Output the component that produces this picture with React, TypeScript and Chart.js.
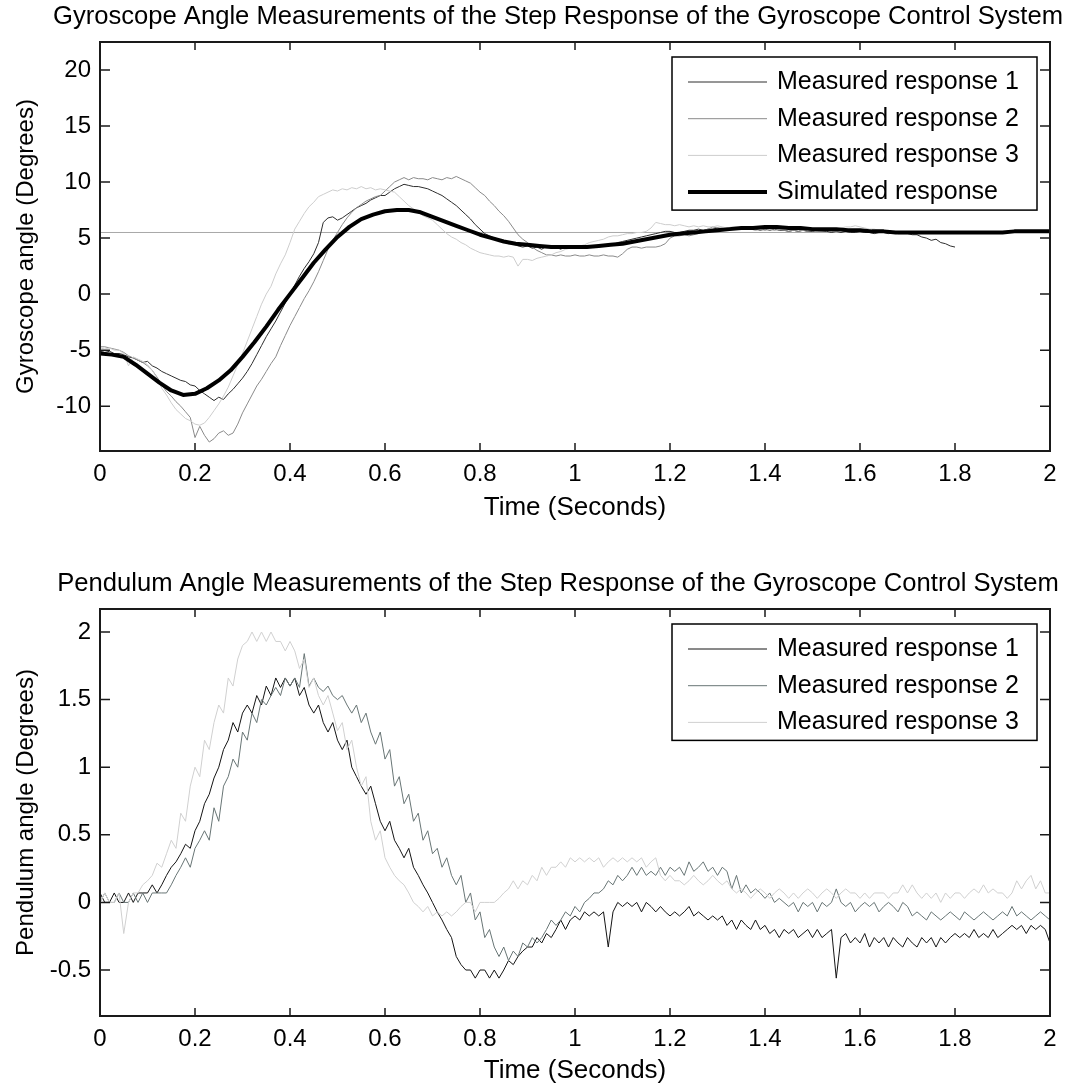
import React, { useEffect, useRef } from "react";
import { Chart, registerables } from "chart.js";

Chart.register(...registerables);

const FONT_FAMILY = "'Liberation Sans', Arial, Helvetica, sans-serif";
const TEXT_COLOR = "#000000";

// ---- axes ----
const timeTicks = [0, 0.2, 0.4, 0.6, 0.8, 1, 1.2, 1.4, 1.6, 1.8, 2];
const timeRange = [0, 2];
const gyroTicks = [-10, -5, 0, 5, 10, 15, 20];
const gyroRange = [-14, 22.5];
const pendTicks = [-0.5, 0, 0.5, 1, 1.5, 2];
const pendRange = [-0.84, 2.17];

// ---- sampling (seconds between stored samples) ----
const SAMPLE_STEP = 0.01;
const SIM_STEP = 0.025;

// ---- gyroscope angle (degrees) ----
const gyroSteadyState = 5.5;

const gyroMeasured1 = [
  -5.1, -5.2, -5.1, -5.3, -5.3, -5.4, -5.6, -5.7, -5.9, -6.1,
  -6.0, -6.4, -6.6, -6.9, -7.1, -7.3, -7.5, -7.7, -7.8, -8.1,
  -8.2, -8.6, -8.9, -9.2, -9.5, -9.2, -9.4, -8.9, -8.5, -8.0,
  -7.5, -6.9, -6.2, -5.4, -4.6, -3.8, -3.1, -2.4, -1.6, -0.8,
  0.0, 0.8, 1.6, 2.3, 2.9, 3.6, 4.6, 6.4, 6.8, 6.9,
  6.6, 6.8, 7.1, 7.4, 7.7, 7.9, 8.1, 8.4, 8.6, 8.8,
  8.8, 9.1, 9.4, 9.6, 9.8, 9.7, 9.6, 9.6, 9.5, 9.4,
  9.2, 9.0, 8.8, 8.5, 8.2, 7.9, 7.5, 7.1, 6.7, 6.2,
  5.8, 5.4, 5.2, 5.0, 4.8, 4.7, 4.5, 4.5, 4.3, 4.2,
  4.3, 4.1, 4.2, 4.0, 4.3, 4.1, 4.2, 4.0, 4.3, 4.1,
  4.2, 4.1, 4.3, 4.2, 4.2, 4.3, 4.3, 4.4, 4.4, 4.6,
  4.7, 4.8, 4.9, 5.0, 5.1, 5.2, 5.3, 5.4, 5.5, 5.6,
  5.6, 5.5, 5.5, 5.6, 5.7, 5.7, 5.8, 5.7, 5.8, 5.8,
  5.9, 5.8, 5.9, 5.8, 5.9, 5.9, 5.8, 5.9, 5.8, 5.7,
  5.8, 5.7, 5.8, 5.7, 5.7, 5.6, 5.7, 5.6, 5.7, 5.6,
  5.6, 5.7, 5.6, 5.6, 5.5, 5.6, 5.5, 5.6, 5.5, 5.5,
  5.6, 5.5, 5.5, 5.4, 5.5, 5.5, 5.4, 5.5, 5.4, 5.4,
  5.4, 5.3, 5.3, 5.1, 5.0, 4.8, 4.9, 4.6, 4.5, 4.3,
  4.2,
];

const gyroMeasured2 = [
  -4.7, -4.7, -4.8, -4.9, -5.0, -5.2, -5.5, -5.7, -5.9, -6.1,
  -6.4, -6.8, -7.4, -8.1, -8.7, -9.1, -9.6, -10.0, -10.5, -11.0,
  -12.8, -11.8, -12.6, -13.2, -12.9, -12.4, -12.2, -12.6, -12.4, -11.6,
  -10.6, -9.8, -9.0, -8.2, -7.6, -6.9, -6.2, -5.6, -4.6, -3.7,
  -2.8, -2.0, -1.2, -0.4, 0.3, 1.1, 2.0, 3.0, 4.0, 4.8,
  5.5, 6.2, 6.8, 7.3, 7.7, 8.0, 8.3, 8.5, 8.7, 8.8,
  9.2, 9.6, 10.0, 10.2, 10.4, 10.2, 10.4, 10.3, 10.3, 10.2,
  10.4, 10.3, 10.2, 10.4, 10.3, 10.5, 10.3, 10.1, 9.9, 9.5,
  9.1, 8.8, 8.3, 7.9, 7.4, 7.0, 6.5, 5.9, 5.3, 4.9,
  4.6, 4.2, 3.9, 3.7, 3.5, 3.5, 3.4, 3.5, 3.4, 3.4,
  3.5, 3.4, 3.4, 3.5, 3.4, 3.4, 3.5, 3.4, 3.4, 3.3,
  3.6, 4.0, 4.2, 4.2, 4.1, 4.2, 4.2, 4.2, 4.3, 4.5,
  5.0, 5.2, 5.2, 5.3, 5.2, 5.3, 5.4, 5.6, 5.8, 6.0,
  5.9, 5.9, 5.8, 5.9, 5.8, 5.8, 5.9, 5.8, 5.7, 5.8,
  5.7, 5.8, 5.7, 5.8, 5.7, 5.6, 5.7, 5.6, 5.7, 5.6,
  5.7, 5.6, 5.6, 5.7, 5.6, 5.6, 5.7, 5.7, 5.6, 5.6,
  5.6,
];

const gyroMeasured3 = [
  -4.8, -4.9, -4.8, -5.0, -5.0, -5.3, -6.4, -5.6, -5.8, -6.0,
  -6.3, -6.8, -7.5, -8.4, -9.0, -9.7, -10.3, -10.7, -11.1, -11.3,
  -11.6, -11.7, -11.5, -11.0, -10.4, -9.8, -9.1, -8.3, -7.3, -6.3,
  -5.3, -4.2, -3.1, -2.0, -0.9, 0.0, 0.7, 1.8, 2.7, 3.5,
  4.6, 5.8, 6.5, 7.2, 7.8, 8.2, 8.7, 8.9, 9.1, 9.3,
  9.2, 9.4, 9.3, 9.5, 9.4, 9.6, 9.4, 9.5, 9.3, 9.4,
  9.3, 9.2, 9.1, 8.7, 8.3, 7.9, 7.6, 7.3, 7.0, 6.8,
  6.6, 6.2, 5.8, 5.4, 5.1, 4.9, 4.6, 4.4, 4.1, 3.9,
  3.7, 3.6, 3.5, 3.4, 3.4, 3.3, 3.4, 3.3, 2.5, 3.1,
  3.1, 3.0, 3.2, 3.3, 3.4, 3.5, 3.7, 3.8, 4.0, 4.1,
  4.2, 4.3, 4.4, 4.6, 4.7, 4.8, 4.9, 5.1, 5.2, 5.2,
  5.3, 5.4, 5.4, 5.5, 5.5, 5.6, 5.9, 6.4, 6.3, 6.2,
  6.2, 6.1, 6.2, 6.1, 6.0, 6.1, 6.0, 6.1, 6.0, 6.0,
  6.1, 6.0, 5.9, 6.0, 6.0, 5.9, 5.9, 6.0, 5.9, 5.8,
  5.9, 5.8, 5.9, 5.8, 5.8, 5.9, 5.8, 5.8, 5.7, 5.8,
  5.8, 5.7, 5.8, 5.8, 5.7, 5.8, 5.9, 6.0, 6.0, 6.1,
  6.0, 5.9, 5.8, 5.8, 5.7, 5.7,
];

const gyroSimulated = [
  -5.3, -5.4, -5.6, -6.3, -7.1, -7.9, -8.6, -9.0, -8.9, -8.4,
  -7.7, -6.8, -5.6, -4.3, -2.9, -1.4, 0.0, 1.4, 2.8, 4.0,
  5.1, 6.0, 6.7, 7.1, 7.4, 7.5, 7.5, 7.3, 6.9, 6.5,
  6.1, 5.7, 5.3, 5.0, 4.7, 4.5, 4.4, 4.3, 4.2, 4.2,
  4.2, 4.2, 4.3, 4.4, 4.5, 4.7, 4.9, 5.1, 5.3, 5.4,
  5.5, 5.6, 5.7, 5.8, 5.9, 5.9, 6.0, 6.0, 5.9, 5.9,
  5.8, 5.8, 5.8, 5.7, 5.7, 5.6, 5.6, 5.5, 5.5, 5.5,
  5.5, 5.5, 5.5, 5.5, 5.5, 5.5, 5.5, 5.6, 5.6, 5.6,
  5.6,
];

// ---- pendulum angle (degrees) ----
const pendMeasured1 = [
  0.07, 0, 0, 0.07, 0, 0, 0.07, 0, 0.07, 0.07,
  0.07, 0.13, 0.07, 0.13, 0.2, 0.26, 0.3, 0.36, 0.43, 0.4,
  0.53, 0.6, 0.73, 0.8, 0.92, 1.0, 1.13, 1.2, 1.33, 1.26,
  1.4, 1.46, 1.4, 1.53, 1.46, 1.6, 1.53, 1.66, 1.59, 1.66,
  1.6, 1.66, 1.53, 1.59, 1.46, 1.4, 1.46, 1.33, 1.26, 1.33,
  1.2, 1.13, 1.2, 1.0, 0.93, 0.86, 0.8, 0.86, 0.73, 0.6,
  0.53, 0.6, 0.46, 0.4, 0.33, 0.4, 0.26, 0.2, 0.13, 0.07,
  0, -0.07, -0.13, -0.2, -0.26, -0.4, -0.46, -0.5, -0.5, -0.56,
  -0.5, -0.5, -0.56, -0.5, -0.56, -0.5, -0.43, -0.46, -0.4, -0.36,
  -0.33, -0.33, -0.26, -0.3, -0.23, -0.26, -0.2, -0.13, -0.2, -0.13,
  -0.1, -0.13, -0.07, -0.1, -0.07, -0.1, -0.07, -0.33, -0.07, 0,
  -0.03, 0, -0.03, 0, -0.07, 0, -0.03, -0.07, -0.03, -0.07,
  -0.1, -0.07, -0.1, -0.07, -0.03, -0.1, -0.07, -0.1, -0.13, -0.1,
  -0.13, -0.1, -0.17, -0.13, -0.2, -0.13, -0.17, -0.2, -0.13, -0.2,
  -0.17, -0.23, -0.2, -0.26, -0.2, -0.23, -0.2, -0.26, -0.23, -0.2,
  -0.26, -0.2, -0.26, -0.23, -0.2, -0.56, -0.26, -0.23, -0.3, -0.26,
  -0.3, -0.23, -0.33, -0.26, -0.3, -0.26, -0.33, -0.26, -0.3, -0.33,
  -0.26, -0.3, -0.33, -0.26, -0.3, -0.26, -0.33, -0.26, -0.3, -0.26,
  -0.23, -0.26, -0.23, -0.26, -0.2, -0.26, -0.23, -0.26, -0.2, -0.26,
  -0.23, -0.2, -0.17, -0.2, -0.17, -0.23, -0.17, -0.2, -0.17, -0.2,
  -0.3,
];

const pendMeasured2 = [
  0, 0.07, 0, 0, 0.07, 0, 0, 0.07, 0, 0.07,
  0, 0.07, 0.07, 0.07, 0.07, 0.13, 0.2, 0.26, 0.33, 0.26,
  0.4, 0.46, 0.53, 0.46, 0.7, 0.6, 0.86, 0.93, 1.06, 1.0,
  1.26, 1.2, 1.4, 1.33, 1.5, 1.46, 1.53, 1.59, 1.53, 1.66,
  1.6, 1.66, 1.59, 1.84, 1.6, 1.66, 1.59, 1.56, 1.6, 1.53,
  1.5, 1.53, 1.46, 1.4, 1.46, 1.33, 1.4, 1.26, 1.17, 1.26,
  1.06, 1.13, 0.86, 0.93, 0.73, 0.8, 0.6, 0.66, 0.46, 0.53,
  0.36, 0.4, 0.26, 0.33, 0.2, 0.13, 0.2, 0, 0.07, -0.13,
  -0.07, -0.26, -0.2, -0.33, -0.4, -0.33, -0.43, -0.36, -0.4, -0.3,
  -0.33, -0.26, -0.3, -0.26, -0.2, -0.13, -0.17, -0.13, -0.07, -0.1,
  -0.03, -0.07, 0, 0.03, 0.07, 0.07, 0.1, 0.16, 0.13, 0.2,
  0.16, 0.2, 0.26, 0.2, 0.26, 0.2, 0.23, 0.2, 0.26, 0.2,
  0.26, 0.23, 0.26, 0.2, 0.3, 0.23, 0.26, 0.3, 0.23, 0.26,
  0.2, 0.26, 0.23, 0.1, 0.2, 0.07, 0.13, 0.07, 0.1, 0.07,
  0.03, 0.07, 0, 0.03, 0, -0.03, 0, -0.07, 0, -0.03,
  0, -0.07, 0, -0.03, 0, 0.1, 0, -0.03, 0, -0.07,
  -0.03, 0, -0.03, 0, -0.07, -0.03, 0, -0.03, -0.07, 0,
  -0.03, -0.1, -0.07, -0.1, -0.13, -0.07, -0.1, -0.13, -0.1, -0.07,
  -0.1, -0.13, -0.07, -0.1, -0.13, -0.1, -0.07, -0.1, -0.13, -0.1,
  -0.07, -0.1, -0.03, -0.1, -0.07, -0.1, -0.13, -0.1, -0.07, -0.1,
  -0.13,
];

const pendMeasured3 = [
  0, 0.07, 0, 0, 0.07, -0.23, 0, 0.07, 0.07, 0.13,
  0.16, 0.2, 0.29, 0.26, 0.36, 0.46, 0.4, 0.66, 0.6, 0.86,
  1.0, 0.93, 1.2, 1.13, 1.33, 1.46, 1.4, 1.66, 1.6, 1.8,
  1.9, 1.93, 2.0, 1.93, 2.0, 1.93, 2.0, 1.93, 1.93, 1.86,
  1.93, 1.86, 1.73, 1.8, 1.59, 1.66, 1.53, 1.46, 1.53, 1.4,
  1.27, 1.33, 1.13, 1.2, 1.0, 0.86, 0.93, 0.6, 0.46, 0.53,
  0.33, 0.26, 0.2, 0.16, 0.13, 0.07, 0, -0.03, -0.07, -0.03,
  -0.1, -0.07, -0.1, -0.07, -0.1, -0.07, -0.03, 0, 0, -0.07,
  0, 0, 0, 0, 0.03, 0.07, 0.1, 0.16, 0.1, 0.16,
  0.13, 0.2, 0.16, 0.26, 0.2, 0.26, 0.26, 0.3, 0.26, 0.33,
  0.3, 0.33, 0.3, 0.33, 0.3, 0.33, 0.26, 0.3, 0.33, 0.3,
  0.33, 0.3, 0.33, 0.3, 0.33, 0.26, 0.3, 0.33, 0.2, 0.16,
  0.2, 0.16, 0.16, 0.13, 0.16, 0.2, 0.16, 0.13, 0.16, 0.2,
  0.16, 0.13, 0.16, 0.1, 0.07, 0.1, 0.07, 0.03, 0.07, 0.1,
  0.07, 0.03, 0.07, 0.1, 0.07, 0.03, 0.07, 0.03, 0.07, 0.1,
  0.07, 0.03, 0.07, 0.1, 0.07, 0.03, 0.07, 0.1, 0.07, 0.07,
  0.03, 0.07, 0.03, 0.07, 0.07, 0.07, 0.03, 0.07, 0.07, 0.13,
  0.07, 0.13, 0.07, 0.03, 0.07, 0.03, 0.07, 0, 0.07, 0.03,
  0.07, 0.07, 0.03, 0.07, 0.1, 0.07, 0.13, 0.07, 0.1, 0.07,
  0.07, 0.03, 0.07, 0.16, 0.1, 0.16, 0.2, 0.1, 0.16, 0.07,
  0.07,
];

// ---- helpers ----
const toSeries = (values: number[], step: number) =>
  values.map((y, i) => ({ x: Math.round(i * step * 1000) / 1000, y }));

const matlabAxesPlugin = {
  id: "matlabAxes",
  afterDatasetsDraw(chart: any, _args: any, opts: any) {
    const { ctx, chartArea, scales } = chart;
    const { left, right, top, bottom } = chartArea;
    ctx.save();

    // figure title
    ctx.font = `25.6px ${FONT_FAMILY}`;
    ctx.fillStyle = TEXT_COLOR;
    ctx.textAlign = "center";
    ctx.textBaseline = "middle";
    ctx.fillText(opts.heading, (left + right) / 2 - 17, opts.headingY);

    // inward tick marks on all four sides
    ctx.strokeStyle = "#1a1a1a";
    ctx.lineWidth = 1.5;
    ctx.beginPath();
    scales.x.ticks.forEach((t: any) => {
      const px = scales.x.getPixelForValue(t.value);
      ctx.moveTo(px, bottom);
      ctx.lineTo(px, bottom - 8);
      ctx.moveTo(px, top);
      ctx.lineTo(px, top + 8);
    });
    scales.y.ticks.forEach((t: any) => {
      const py = scales.y.getPixelForValue(t.value);
      ctx.moveTo(left, py);
      ctx.lineTo(left + 10, py);
      ctx.moveTo(right, py);
      ctx.lineTo(right - 10, py);
    });
    ctx.stroke();
    // axes box
    ctx.lineWidth = 2;
    ctx.strokeRect(left, top, right - left, bottom - top);

    // boxed legend, upper right inside the axes
    const items = chart.data.datasets.filter((d: any) => d.label);
    const boxLeft = right - 378;
    const boxRight = right - 13;
    const boxTop = top + 15;
    const firstRow = 25;
    const rowGap = 36.7;
    const boxBottom = boxTop + firstRow + (items.length - 1) * rowGap + 18;
    ctx.fillStyle = "#ffffff";
    ctx.fillRect(boxLeft, boxTop, boxRight - boxLeft, boxBottom - boxTop);
    ctx.lineWidth = 1.5;
    ctx.strokeStyle = "#000000";
    ctx.strokeRect(boxLeft, boxTop, boxRight - boxLeft, boxBottom - boxTop);
    ctx.font = `25px ${FONT_FAMILY}`;
    ctx.textBaseline = "middle";
    ctx.textAlign = "left";
    items.forEach((d: any, i: number) => {
      const y = boxTop + firstRow + i * rowGap;
      ctx.strokeStyle = d.borderColor;
      ctx.lineWidth = d.borderWidth;
      ctx.beginPath();
      ctx.moveTo(right - 362, y);
      ctx.lineTo(right - 283, y);
      ctx.stroke();
      ctx.fillStyle = TEXT_COLOR;
      ctx.fillText(d.label, right - 273, y);
    });
    ctx.restore();
  },
};

function makeConfig(p: {
  heading: string;
  headingY: number;
  topSpace: number;
  yLabel: string;
  yTicks: number[];
  yRange: number[];
  xAxisHeight: number;
  xTitlePadBottom: number;
  datasets: any[];
}) {
  const font = { family: FONT_FAMILY, size: 24, weight: "normal" as const };
  const xTitleFont = { family: FONT_FAMILY, size: 26, weight: "normal" as const };
  return {
    type: "line" as const,
    data: { datasets: p.datasets },
    options: {
      animation: false as const,
      responsive: false,
      devicePixelRatio: 1,
      events: [] as any[],
      layout: { padding: { left: 0, right: 41, top: p.topSpace, bottom: 0 } },
      elements: {
        point: { radius: 0 },
        line: { tension: 0, fill: false, borderJoinStyle: "round" as const },
      },
      plugins: {
        legend: { display: false },
        tooltip: { enabled: false },
        title: { display: false },
        matlabAxes: { heading: p.heading, headingY: p.headingY },
      },
      scales: {
        x: {
          type: "linear" as const,
          min: timeRange[0],
          max: timeRange[1],
          afterBuildTicks: (s: any) => {
            s.ticks = timeTicks.map((v) => ({ value: v }));
          },
          afterFit: (s: any) => {
            s.height = p.xAxisHeight;
          },
          grid: { display: false, drawTicks: false },
          border: { display: false },
          ticks: {
            color: TEXT_COLOR,
            font,
            padding: 9,
            maxRotation: 0,
            autoSkip: false,
            callback: (v: any) => String(v),
          },
          title: {
            display: true,
            text: "Time (Seconds)",
            color: TEXT_COLOR,
            font: xTitleFont,
            padding: { top: 0, bottom: p.xTitlePadBottom },
          },
        },
        y: {
          type: "linear" as const,
          min: p.yRange[0],
          max: p.yRange[1],
          afterBuildTicks: (s: any) => {
            s.ticks = p.yTicks.map((v) => ({ value: v }));
          },
          afterFit: (s: any) => {
            s.width = 100;
          },
          grid: { display: false, drawTicks: false },
          border: { display: false },
          ticks: {
            color: TEXT_COLOR,
            font,
            padding: 9,
            autoSkip: false,
            callback: (v: any) => String(v),
          },
          title: {
            display: true,
            text: p.yLabel,
            color: TEXT_COLOR,
            font,
            padding: { top: 12, bottom: 0 },
          },
        },
      },
    },
    plugins: [matlabAxesPlugin],
  };
}

function gyroConfig() {
  return makeConfig({
    heading: "Gyroscope Angle Measurements of the Step Response of the Gyroscope Control System",
    headingY: 17,
    topSpace: 42,
    yLabel: "Gyroscope angle (Degrees)",
    yTicks: gyroTicks,
    yRange: gyroRange,
    xAxisHeight: 89,
    xTitlePadBottom: 17,
    datasets: [
      { label: "Measured response 1", data: toSeries(gyroMeasured1, SAMPLE_STEP), borderColor: "#2e2e2e", borderWidth: 1, order: 4 },
      { label: "Measured response 2", data: toSeries(gyroMeasured2, SAMPLE_STEP), borderColor: "#8a8a8a", borderWidth: 1, order: 3 },
      { label: "Measured response 3", data: toSeries(gyroMeasured3, SAMPLE_STEP), borderColor: "#cdcdcd", borderWidth: 1, order: 2 },
      { label: "Simulated response", data: toSeries(gyroSimulated, SIM_STEP), borderColor: "#000000", borderWidth: 4, order: 1 },
      {
        label: "",
        data: [
          { x: timeRange[0], y: gyroSteadyState },
          { x: timeRange[1], y: gyroSteadyState },
        ],
        borderColor: "#a8a8a8",
        borderWidth: 1,
        order: 5,
      },
    ],
  });
}

function pendConfig() {
  return makeConfig({
    heading: "Pendulum Angle Measurements of the Step Response of the Gyroscope Control System",
    headingY: 44,
    topSpace: 69,
    yLabel: "Pendulum angle (Degrees)",
    yTicks: pendTicks,
    yRange: pendRange,
    xAxisHeight: 70,
    xTitlePadBottom: 0,
    datasets: [
      { label: "Measured response 1", data: toSeries(pendMeasured1, SAMPLE_STEP), borderColor: "#141414", borderWidth: 1, order: 3 },
      { label: "Measured response 2", data: toSeries(pendMeasured2, SAMPLE_STEP), borderColor: "#687575", borderWidth: 1, order: 2 },
      { label: "Measured response 3", data: toSeries(pendMeasured3, SAMPLE_STEP), borderColor: "#d0d0d0", borderWidth: 1, order: 1 },
    ],
  });
}

export default function App() {
  const topRef = useRef<HTMLCanvasElement>(null);
  const bottomRef = useRef<HTMLCanvasElement>(null);

  useEffect(() => {
    const charts: Chart[] = [];
    if (topRef.current) charts.push(new Chart(topRef.current, gyroConfig() as any));
    if (bottomRef.current) charts.push(new Chart(bottomRef.current, pendConfig() as any));
    return () => charts.forEach((c) => c.destroy());
  }, []);

  return (
    <div
      style={{
        position: "absolute",
        left: 0,
        top: 0,
        width: 1091,
        height: 1086,
        background: "#ffffff",
      }}
    >
      <canvas ref={topRef} width={1091} height={540} style={{ display: "block" }} />
      <canvas ref={bottomRef} width={1091} height={546} style={{ display: "block" }} />
    </div>
  );
}
